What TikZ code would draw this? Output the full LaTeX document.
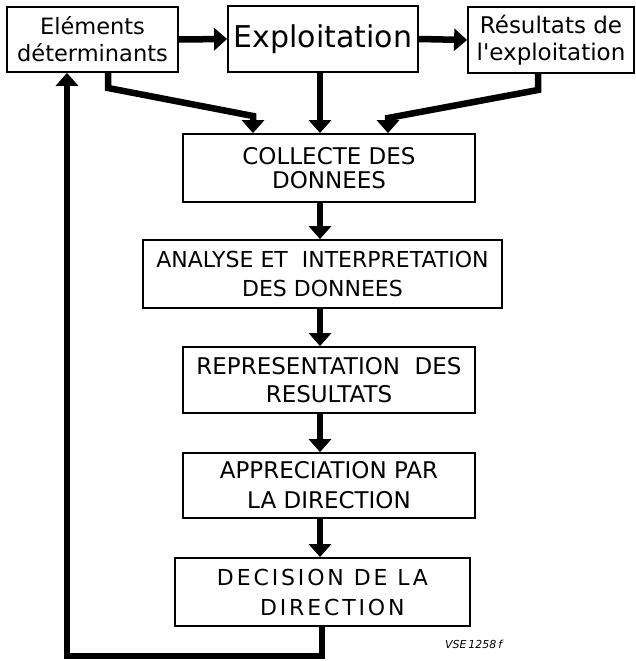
\documentclass[tikz,border=0pt]{standalone}
\usepackage{fontspec}
\setmainfont{DejaVu Sans}[Ligatures=TeXOff]
\usetikzlibrary{arrows.meta,calc}
\tikzset{
  box/.style={draw,line width=1.8pt,inner sep=0pt,align=center,font=\fontsize{23}{28}\selectfont},
  flow/.style={line width=6.5pt,-{Triangle[width=22pt,length=13pt]}},
  feed/.style={line width=6pt,line join=miter},
}
\begin{document}
\begin{tikzpicture}[x=1pt,y=-1pt]
\useasboundingbox (0,0) rectangle (636,661);
\fill[white] (0,0) rectangle (636,661);
\node[box,minimum width=171pt,minimum height=65pt,font=\fontsize{22.5}{27}\selectfont] (elem) at (92.5,39.5) {Eléments\\déterminants};
\node[box,minimum width=190pt,minimum height=66pt,font=\fontsize{30}{34}\selectfont] (expl) at (323,39) {Exploitation};
\node[box,minimum width=166pt,minimum height=66pt,font=\fontsize{23}{27}\selectfont] (res) at (551,40) {Résultats de\\l'exploitation};
\node[box,minimum width=292pt,minimum height=68pt,font=\fontsize{23}{24}\selectfont] (coll) at (329,168) {COLLECTE DES\\DONNEES};
\node[box,minimum width=359pt,minimum height=68pt,font=\fontsize{22}{29}\selectfont] (ana) at (322.5,274) {ANALYSE ET \ INTERPRETATION\\DES DONNEES};
\node[box,minimum width=292pt,minimum height=66pt] (rep) at (329,380) {REPRESENTATION \ DES\\RESULTATS};
\node[box,minimum width=292pt,minimum height=65pt,font=\fontsize{23}{30}\selectfont] (app) at (329,485.5) {APPRECIATION PAR\\LA DIRECTION};
\node[box,minimum width=295pt,minimum height=68pt,font=\fontsize{22}{30}\selectfont\addfontfeatures{LetterSpace=13}] (dec) at (322.5,592) {DECISION DE LA\\ \ \ DIRECTION};
\node[font=\itshape\fontsize{11}{13}\selectfont,anchor=west,inner sep=0pt] (ref) at (445,644) {VSE\,1258\,f};
% top row arrows
\draw[flow] (elem.east) -- (expl.west);
\draw[flow] (expl.east) -- (res.west);
% into collecte
\coordinate (c1) at (253,0);
\coordinate (c2) at (320,0);
\coordinate (c3) at (388,0);
\draw[flow] (elem.south -| 108,0) -- (108,88) -- (253,116) -- (coll.north -| c1);
\draw[flow] (expl.south -| c2) -- (coll.north -| c2);
\draw[flow] (res.south -| 538,0) -- (538,90) -- (388,118) -- (coll.north -| c3);
% spine
\draw[flow] (coll.south -| c2) -- (ana.north -| c2);
\draw[flow] (ana.south -| c2) -- (rep.north -| c2);
\draw[flow] (rep.south -| c2) -- (app.north -| c2);
\draw[flow] (app.south -| c2) -- (dec.north -| c2);
% feedback
\coordinate (fb1) at (322,656);
\coordinate (fb2) at (67,656);
\draw[feed,-{Triangle[width=22pt,length=13pt]}] (dec.south -| fb1) -- (fb1) -- (fb2) -- (elem.south -| fb2);
\end{tikzpicture}
\end{document}
